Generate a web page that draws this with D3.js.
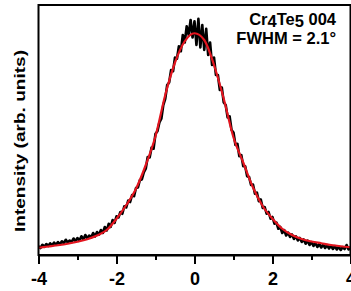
<!DOCTYPE html>
<html><head><meta charset="utf-8">
<script src="https://cdn.jsdelivr.net/npm/d3@7"></script>
<style>
html,body{margin:0;padding:0;background:#fff;}
svg{display:block;}
text{font-family:Arial,"Liberation Sans",Helvetica,sans-serif;font-weight:bold;}
</style></head>
<body><svg id="c" width="351" height="291"></svg>
<script>
// x axis ticks
const majorTicks = [-4, -2, 0, 2, 4];
const minorTicks = [-3, -1, 1, 3];
// measured data (black), sampled every 0.05 deg from -4 to 4
const dataStart = -4, dataStep = 0.05;
const dataY = [
 0.035,0.028,0.041,0.033,0.044,0.036,0.047,0.038,0.050,0.041,0.052,0.043,0.055,0.047,0.061,0.050,0.058,0.052,0.066,0.055,
 0.068,0.058,0.075,0.062,0.080,0.066,0.078,0.070,0.088,0.074,0.092,0.081,0.100,0.088,0.112,0.098,0.125,0.112,0.140,0.128,
 0.155,0.150,0.172,0.165,0.195,0.190,0.218,0.212,0.240,0.235,0.268,0.270,0.300,0.302,0.330,0.345,0.392,0.390,0.430,0.425,
 0.485,0.495,0.530,0.545,0.600,0.625,0.680,0.690,0.740,0.735,0.790,0.785,0.835,0.815,0.880,0.850,0.915,0.880,0.940,0.870,
 0.935,0.840,0.945,0.830,0.920,0.820,0.905,0.800,0.850,0.760,0.790,0.720,0.720,0.660,0.670,0.610,0.600,0.550,0.555,0.500,
 0.490,0.440,0.445,0.395,0.400,0.355,0.355,0.315,0.312,0.280,0.282,0.245,0.250,0.215,0.222,0.188,0.192,0.165,0.172,0.145,
 0.152,0.125,0.130,0.105,0.112,0.088,0.100,0.078,0.090,0.072,0.082,0.064,0.075,0.058,0.068,0.052,0.062,0.045,0.058,0.040,
 0.052,0.036,0.048,0.032,0.044,0.030,0.042,0.028,0.040,0.026,0.037,0.024,0.036,0.022,0.033,0.020,0.032,0.024,0.040,0.022,
 0.030
];
// fit curve (red)
const fitX = [-4,-3.75,-3.5,-3.25,-3,-2.75,-2.5,-2.25,-2,-1.75,-1.5,-1.25,-1,-0.75,-0.5,-0.25,0,0.25,0.5,0.75,1,1.25,1.5,1.75,2,2.25,2.5,2.75,3,3.25,3.5,3.75,4];
const fitY = [0.029,0.034,0.039,0.045,0.053,0.063,0.078,0.100,0.145,0.200,0.265,0.360,0.475,0.640,0.770,0.855,0.887,0.860,0.760,0.625,0.470,0.370,0.270,0.195,0.145,0.105,0.080,0.064,0.054,0.047,0.040,0.035,0.031];

const svg = d3.select("#c");
const L = 38.5, R = 350.5, T = 5, B = 255;
const x = d3.scaleLinear().domain([-4, 4]).range([L, R]);
const y = d3.scaleLinear().domain([0, 1]).range([B, T]);

const dataPts = dataY.map((v, i) => [dataStart + i * dataStep, v]);
const fitPts = fitX.map((v, i) => [v, fitY[i]]);

svg.append("clipPath").attr("id", "cp").append("rect")
  .attr("x", L).attr("y", T).attr("width", R - L).attr("height", B - T);

svg.append("path").datum(dataPts)
  .attr("clip-path", "url(#cp)")
  .attr("fill", "none").attr("stroke", "#000").attr("stroke-width", 2.6)
  .attr("stroke-linejoin", "round")
  .attr("d", d3.line().x(d => x(d[0])).y(d => y(d[1])));

svg.append("path").datum(fitPts)
  .attr("clip-path", "url(#cp)")
  .attr("fill", "none").attr("stroke", "#e3151f").attr("stroke-width", 2.2)
  .attr("d", d3.line().curve(d3.curveMonotoneX).x(d => x(d[0])).y(d => y(d[1])));

// frame
svg.append("rect").attr("x", L).attr("y", T).attr("width", R - L).attr("height", B - T)
  .attr("fill", "none").attr("stroke", "#000").attr("stroke-width", 2);

// bottom axis major
const ax = svg.append("g").attr("transform", `translate(0,${B})`)
  .call(d3.axisBottom(x).tickValues(majorTicks).tickSize(9).tickSizeOuter(0).tickPadding(8)
    .tickFormat(d => d < 0 ? "-" + Math.abs(d) : String(d)));
ax.select(".domain").attr("stroke-width", 2);
ax.selectAll(".tick line").attr("stroke-width", 2);
ax.selectAll(".tick text").attr("font-size", 18).attr("fill", "#000")
  .attr("font-family", "Arial, 'Liberation Sans', sans-serif").attr("font-weight", "bold");
// minor
const am = svg.append("g").attr("transform", `translate(0,${B})`)
  .call(d3.axisBottom(x).tickValues(minorTicks).tickSize(5).tickFormat(""));
am.select(".domain").remove();
am.selectAll(".tick line").attr("stroke-width", 2);

// y label
svg.append("text")
  .attr("transform", "translate(25,141) rotate(-90)")
  .attr("text-anchor", "middle")
  .attr("font-size", 14.5)
  .attr("textLength", 182).attr("lengthAdjust", "spacingAndGlyphs")
  .text("Intensity (arb. units)");

// annotation
const a1 = svg.append("text").attr("x", 336).attr("y", 25).attr("text-anchor", "end").attr("font-size", 16.5);
a1.append("tspan").text("Cr");
a1.append("tspan").attr("dy", 2).text("4");
a1.append("tspan").attr("dy", -2).text("Te");
a1.append("tspan").attr("dy", 2).text("5");
a1.append("tspan").attr("dy", -2).text(" 004");
svg.append("text").attr("x", 336).attr("y", 44).attr("text-anchor", "end").attr("font-size", 16.5)
  .text("FWHM = 2.1°");
</script></body></html>
